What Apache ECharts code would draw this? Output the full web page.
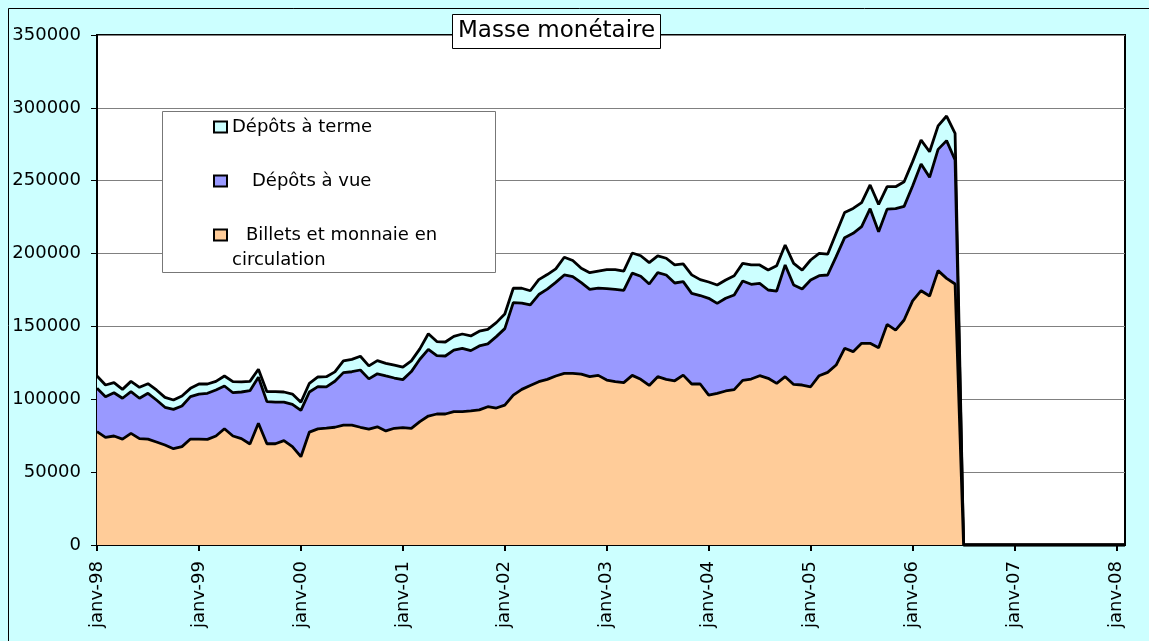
<!DOCTYPE html>
<html>
<head>
<meta charset="utf-8">
<script src="https://cdn.jsdelivr.net/npm/echarts@6/dist/echarts.min.js"></script>
<style>
  html, body { margin: 0; padding: 0; background: #CCFFFF; }
  #chart { width: 1149px; height: 641px; }
</style>
</head>
<body>
<div id="chart"></div>
<script>
// Monthly categories, janv-98 .. févr-08
const monthNames = ['janv', 'févr', 'mars', 'avr', 'mai', 'juin', 'juil', 'août', 'sept', 'oct', 'nov', 'déc'];
const yearSuffixes = ['98', '99', '00', '01', '02', '03', '04', '05', '06', '07', '08'];
const categories = [];
yearSuffixes.forEach(y => monthNames.forEach(m => categories.push(m + '-' + y)));
categories.length = 122;

// Tick labels shown on the time axis (every January)
const tickLabels = ['janv-98', 'janv-99', 'janv-00', 'janv-01', 'janv-02', 'janv-03',
                    'janv-04', 'janv-05', 'janv-06', 'janv-07', 'janv-08'];

const seriesNames = ['Billets et monnaie en circulation', 'Dépôts à vue', 'Dépôts à terme'];

// Billets et monnaie en circulation
const billets = [
  77800, 73900, 74800, 72700, 76600, 73000, 72700, 70700, 68600, 66100, 67500, 72700,
  72700, 72500, 74800, 79800, 74800, 73000, 69300, 83500, 69500, 69500, 71600, 67500,
  60600, 77500, 79700, 80200, 80800, 82200, 82200, 80800, 79500, 81100, 78300, 80100,
  80600, 80100, 84700, 88500, 89900, 89900, 91500, 91500, 92000, 92700, 94900, 94000,
  96000, 102900, 106800, 109500, 112100, 113700, 116000, 117800, 117800, 117300, 115500, 116400,
  113200, 112100, 111400, 116400, 113700, 109500, 115500, 113700, 112700, 116600, 110500, 110500,
  102800, 104100, 105700, 106600, 113000, 113900, 116200, 114400, 110900, 115500, 110200, 109800,
  108600, 116200, 118500, 123500, 135000, 132700, 138400, 138400, 135400, 151400, 147500, 154400,
  167500, 174500, 170900, 188300, 183000, 179100, 0, 0, 0, 0, 0, 0,
  0, 0, 0, 0, 0, 0, 0, 0, 0, 0, 0, 0,
  0, 0
];

// Dépôts à vue
const depotsVue = [
  29700, 27900, 29700, 28000, 28600, 27700, 31400, 28800, 25900, 27000, 27900, 29100,
  30900, 31600, 31600, 29300, 29700, 32000, 36600, 31600, 28900, 28600, 26500, 29000,
  31800, 27500, 29000, 28300, 31600, 36100, 36700, 39300, 34500, 36400, 37700, 34500,
  32900, 38900, 42800, 45800, 40100, 39800, 42300, 43500, 41400, 43900, 43100, 49000,
  52500, 63400, 59200, 55300, 59800, 61900, 64200, 67500, 66400, 62700, 60000, 59900,
  62800, 63300, 63300, 70200, 70700, 69600, 71400, 71600, 67100, 64100, 62200, 60700,
  66500, 61700, 63600, 65000, 68200, 65000, 63400, 60600, 63400, 76700, 68200, 65900,
  73300, 68600, 66800, 74400, 75900, 81200, 80100, 92400, 79600, 79100, 83300, 78000,
  78900, 87000, 81400, 83200, 94500, 85100, 0, 0, 0, 0, 0, 0,
  0, 0, 0, 0, 0, 0, 0, 0, 0, 0, 0, 0,
  0, 0
];

// Dépôts à terme
const depotsTerme = [
  8500, 8000, 6900, 6100, 7100, 7500, 6600, 6900, 6800, 6400, 6900, 5700,
  6900, 6400, 5900, 6900, 7600, 6900, 6400, 5500, 6800, 7100, 6900, 7100,
  5600, 6000, 6600, 7000, 6400, 8100, 8500, 9400, 8900, 9000, 8700, 8800,
  8500, 7400, 7100, 10700, 9600, 9600, 9400, 9800, 10100, 10100, 10000, 9600,
  10000, 9900, 10200, 9700, 10200, 10000, 9300, 12200, 11000, 9900, 11400, 11700,
  13000, 13600, 13300, 13800, 14100, 14700, 11500, 11500, 12400, 12200, 12700, 10900,
  11200, 12600, 12600, 13200, 12100, 13300, 12600, 13700, 17400, 13700, 14900, 13000,
  13700, 15400, 14300, 16000, 17300, 17100, 16500, 16300, 18800, 15400, 15100, 16900,
  16700, 16400, 17600, 16100, 16900, 18300, 0, 0, 0, 0, 0, 0,
  0, 0, 0, 0, 0, 0, 0, 0, 0, 0, 0, 0,
  0, 0
];

const FONT = 'DejaVu Sans';
const fills = { billets: '#FFCC99', vue: '#9999FF', terme: '#CCFFFF' };
const isTick = (idx) => tickLabels.indexOf(categories[idx]) !== -1;

function areaSeries(name, data, fill, z) {
  return {
    name: name,
    type: 'line',
    stack: 'masse',
    data: data,
    z: z,
    symbol: 'none',
    showSymbol: false,
    itemStyle: { color: fill },
    lineStyle: { color: '#000', width: 2.8 },
    areaStyle: { color: fill, opacity: 1 },
    emphasis: { disabled: true },
    animation: false
  };
}

const legendBase = {
  orient: 'vertical',
  padding: 0,
  itemWidth: 13,
  itemHeight: 11,
  icon: 'rect',
  selectedMode: false,
  z: 8,
  itemStyle: { borderColor: '#000', borderWidth: 2 },
  textStyle: { fontFamily: FONT, fontSize: 18, color: '#000', lineHeight: 22 }
};

const chart = echarts.init(document.getElementById('chart'));
chart.setOption({
  backgroundColor: '#CCFFFF',
  animation: false,
  title: {
    text: 'Masse monétaire',
    left: 452,
    top: 14,
    padding: [6, 6],
    backgroundColor: '#fff',
    borderColor: '#000',
    borderWidth: 1,
    z: 9,
    textStyle: { fontFamily: FONT, fontSize: 23, fontWeight: 'normal', color: '#000' }
  },
  graphic: [
    {
      type: 'rect', left: 6, top: 6, z: -1, silent: true,
      shape: { width: 1160, height: 660 },
      style: { fill: 'none', stroke: '#000', lineWidth: 1 }
    },
    {
      type: 'rect', left: 162, top: 111, z: 7, silent: true,
      shape: { width: 333, height: 161 },
      style: { fill: '#fff', stroke: '#777', lineWidth: 1 }
    }
  ],
  legend: [
    Object.assign({}, legendBase, {
      left: 213, top: 116,
      data: [{ name: seriesNames[2], itemStyle: { color: fills.terme } }]
    }),
    Object.assign({}, legendBase, {
      left: 213, top: 170,
      data: [{ name: seriesNames[1], itemStyle: { color: fills.vue } }],
      textStyle: Object.assign({}, legendBase.textStyle, { padding: [0, 0, 0, 20] })
    }),
    Object.assign({}, legendBase, {
      left: 213, top: 226,
      data: [{ name: seriesNames[0], itemStyle: { color: fills.billets } }],
      formatter: () => '{a|Billets et monnaie en}\n{b|circulation}',
      textStyle: {
        fontFamily: FONT, fontSize: 18, color: '#000',
        padding: [25, 0, 0, 0],
        rich: {
          a: { fontFamily: FONT, fontSize: 18, lineHeight: 25, color: '#000', padding: [0, 0, 0, 14] },
          b: { fontFamily: FONT, fontSize: 18, lineHeight: 25, color: '#000' }
        }
      }
    })
  ],
  grid: {
    left: 97, right: 24, top: 35, bottom: 96,
    show: true, backgroundColor: '#fff', borderColor: '#000', borderWidth: 2
  },
  xAxis: {
    type: 'category',
    data: categories,
    boundaryGap: false,
    axisLine: { lineStyle: { color: '#000', width: 2 } },
    axisTick: { show: true, interval: isTick, length: 6, lineStyle: { color: '#000', width: 2 } },
    axisLabel: {
      interval: isTick,
      rotate: 90,
      margin: 16,
      fontFamily: FONT,
      fontSize: 18,
      color: '#000'
    },
    splitLine: { show: false }
  },
  yAxis: {
    type: 'value',
    min: 0,
    max: 350000,
    interval: 50000,
    axisLine: { show: true, lineStyle: { color: '#000', width: 2 } },
    axisTick: { show: true, length: 6, lineStyle: { color: '#000', width: 1 } },
    axisLabel: {
      margin: 16, fontFamily: FONT, fontSize: 18, color: '#000',
      formatter: (v) => String(v)
    },
    splitLine: { show: true, lineStyle: { color: '#808080', width: 1 } }
  },
  series: [
    areaSeries(seriesNames[0], billets, fills.billets, 5),
    areaSeries(seriesNames[1], depotsVue, fills.vue, 4),
    areaSeries(seriesNames[2], depotsTerme, fills.terme, 3)
  ]
});
</script>
</body>
</html>
